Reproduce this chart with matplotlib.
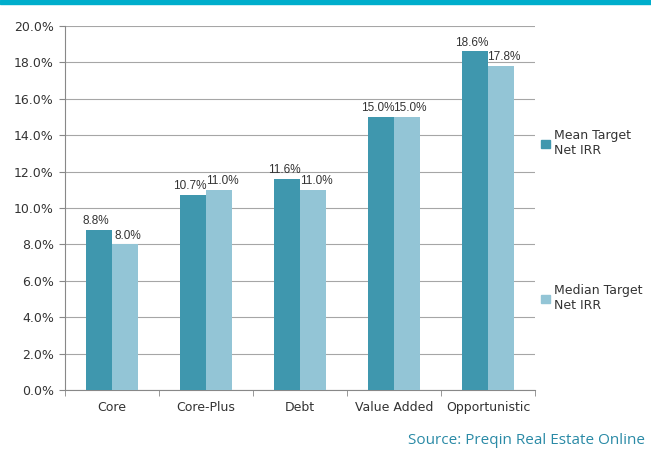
import matplotlib.pyplot as plt
import matplotlib.patches as mpatches
import numpy as np

categories = ['Core', 'Core-Plus', 'Debt', 'Value Added', 'Opportunistic']
mean_irr = [8.8, 10.7, 11.6, 15.0, 18.6]
median_irr = [8.0, 11.0, 11.0, 15.0, 17.8]
mean_label = 'Mean Target\nNet IRR'
median_label = 'Median Target\nNet IRR'

dark = '#3f97ae'
light = '#93c5d6'

plt.rcParams['font.family'] = ['DejaVu Sans']
fig = plt.figure(figsize=(6.51, 4.53), dpi=100)
# teal band on top
fig.patches.append(mpatches.Rectangle((0, 1 - 4/453), 1, 4/453, transform=fig.transFigure,
                                      color='#00aecc', zorder=0))

ax = fig.add_axes([65/651, 1 - 390/453, 470/651, 364/453])
x = np.arange(len(categories))
w = 0.28
ax.bar(x - w/2, mean_irr, w, color=dark, zorder=3)
ax.bar(x + w/2, median_irr, w, color=light, zorder=3)
# value labels, nudged apart a little so neighbours don't collide
for xi, v in zip(x, mean_irr):
    ax.annotate('%.1f%%' % v, (xi - w/2, v), xytext=(-2, 2), textcoords='offset points',
                ha='center', va='bottom', fontsize=8.5, color='#333333', family='Liberation Sans')
for xi, v in zip(x, median_irr):
    ax.annotate('%.1f%%' % v, (xi + w/2, v), xytext=(2, 2), textcoords='offset points',
                ha='center', va='bottom', fontsize=8.5, color='#333333', family='Liberation Sans')

ax.set_xlim(-0.5, len(categories) - 0.5)
ax.set_ylim(0, 20)
ax.set_yticks(np.arange(0, 20.1, 2))
ax.set_yticklabels(['%.1f%%' % t for t in np.arange(0, 20.1, 2)], fontsize=9, color='#333333')
ax.set_xticks(x)
ax.set_xticklabels(categories, fontsize=9, color='#333333')
ax.tick_params(axis='x', length=0, pad=8)
ax.set_xticks(np.arange(-0.5, len(categories), 1), minor=True)
ax.tick_params(axis='x', which='minor', length=4, color='#888888')
ax.tick_params(axis='y', length=4, color='#888888', pad=4)
ax.grid(axis='y', color='#a6a6a6', linewidth=0.8, zorder=0)
for s in ['top', 'right']:
    ax.spines[s].set_visible(False)
ax.spines['left'].set_color('#888888')
ax.spines['bottom'].set_color('#888888')

fig.legend([mpatches.Patch(color=dark)], [mean_label], loc='upper left',
           bbox_to_anchor=(530/651, 1 - 118/453), frameon=False, fontsize=9,
           handlelength=0.7, handleheight=0.7, handletextpad=0.3, labelcolor='#333333')
fig.legend([mpatches.Patch(color=light)], [median_label], loc='upper left',
           bbox_to_anchor=(530/651, 1 - 273/453), frameon=False, fontsize=9,
           handlelength=0.7, handleheight=0.7, handletextpad=0.3, labelcolor='#333333')

fig.text(645/651, 1 - 441/453, 'Source: Preqin Real Estate Online', ha='right', va='center',
         fontsize=11, color='#2a8aa6', family='Open Sans')

fig.savefig('out.png', dpi=100)
